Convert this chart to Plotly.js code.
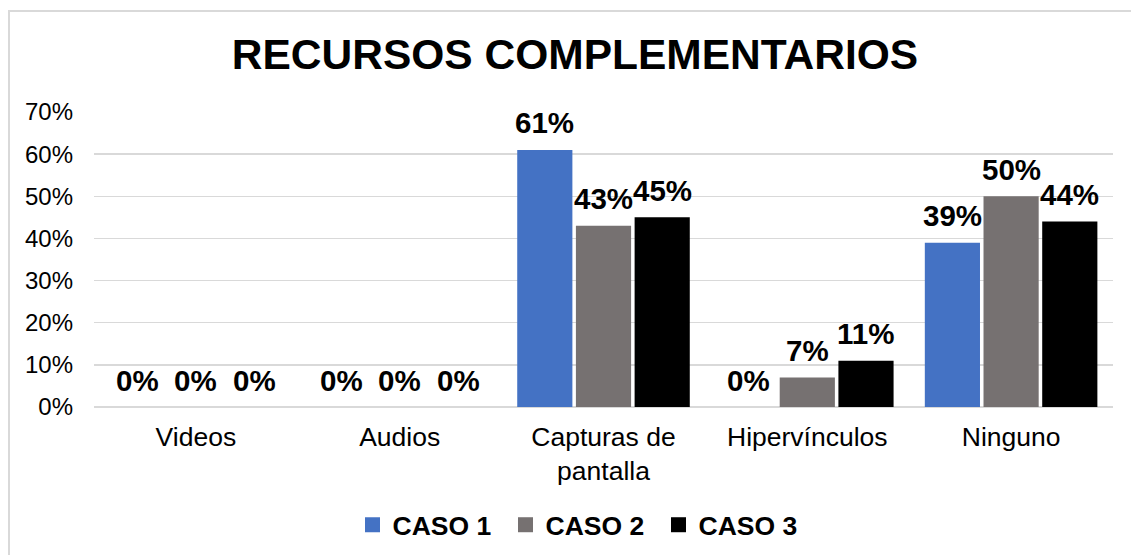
<!DOCTYPE html>
<html>
<head>
<meta charset="utf-8">
<script src="https://cdn.plot.ly/plotly-3.0.1.min.js"></script>
<style>
  html, body { margin: 0; padding: 0; background: #fff; }
  #wrap { position: relative; width: 1131px; height: 555px; overflow: hidden; }
  #chart { width: 1131px; height: 555px; }
  #frame { position: absolute; left: 8px; top: 10px; width: 1200px; height: 700px;
           border-left: 2px solid #d9d9d9; border-top: 2px solid #d9d9d9; pointer-events: none; }
</style>
</head>
<body>
<div id="wrap">
  <div id="chart"></div>
  <div id="frame"></div>
</div>
<script>
const categories = ["Videos", "Audios", "Capturas de<br>pantalla", "Hipervínculos", "Ninguno"];
const seriesNames = ["CASO 1", "CASO 2", "CASO 3"];
const caso1 = [0, 0, 61, 0, 39];
const caso2 = [0, 0, 43, 7, 50];
const caso3 = [0, 0, 45, 11, 44];
const yTickVals = [0, 10, 20, 30, 40, 50, 60, 70];
const yTickText = ["0%", "10%", "20%", "30%", "40%", "50%", "60%", "70%"];

const colors = ["#4472C4", "#767171", "#000000"];
const allSeries = [caso1, caso2, caso3];
const FONT = "Liberation Sans, Arial, sans-serif";
const bargap = 0.136;
const slot = (1 - bargap) / allSeries.length;

const traces = allSeries.map((vals, s) => ({
  type: "bar",
  name: seriesNames[s],
  x: categories,
  y: vals,
  marker: { color: colors[s] },
  showlegend: false,
  hoverinfo: "skip"
}));

// legend entries with larger square swatches
seriesNames.forEach((name, s) => {
  traces.push({
    type: "scatter",
    mode: "markers",
    name: name,
    x: [null], y: [null],
    marker: { symbol: "square", size: 15, color: colors[s] },
    showlegend: true,
    hoverinfo: "skip"
  });
});

const annotations = [];
allSeries.forEach((vals, s) => {
  vals.forEach((v, i) => {
    annotations.push({
      x: i + (s - 1) * slot,
      y: v,
      xref: "x", yref: "y",
      text: v + "%",
      showarrow: false,
      yanchor: "middle",
      yshift: 27,
      font: { family: FONT, size: 29.5, color: "#000", weight: "bold" }
    });
  });
});

const layout = {
  width: 1131, height: 555,
  paper_bgcolor: "rgba(0,0,0,0)",
  plot_bgcolor: "#fff",
  margin: { l: 94, r: 18, t: 112, b: 148, autoexpand: false },
  title: {
    text: "<b>RECURSOS COMPLEMENTARIOS</b>",
    font: { family: FONT, size: 42.5, color: "#000" },
    xref: "container", x: 575 / 1131, xanchor: "center",
    yref: "container", y: 1 - 54.5 / 555, yanchor: "middle"
  },
  barmode: "group",
  bargap: bargap,
  bargroupgap: 0.06,
  xaxis: {
    type: "category",
    tickfont: { family: FONT, size: 26.5, color: "#000" },
    showgrid: false, zeroline: false, showline: false,
    ticks: "", ticklabelstandoff: 11
  },
  yaxis: {
    range: [0, 70],
    tickvals: yTickVals, ticktext: yTickText,
    tickfont: { family: FONT, size: 24, color: "#000" },
    showgrid: true, gridcolor: "#d9d9d9", gridwidth: 1.5,
    zeroline: true, zerolinecolor: "#d9d9d9", zerolinewidth: 1.5,
    showline: false, ticks: "", ticklabelstandoff: 20
  },
  showlegend: true,
  legend: {
    orientation: "h",
    x: (582 - 94) / 1019, xanchor: "center",
    y: (407 - 525) / 295, yanchor: "middle",
    itemwidth: 30,
    entrywidth: 108,
    font: { family: FONT, size: 26.5, color: "#000", weight: "bold" },
    itemclick: false, itemdoubleclick: false
  },
  annotations: annotations
};

Plotly.newPlot("chart", traces, layout, { displayModeBar: false, staticPlot: true });
</script>
</body>
</html>
